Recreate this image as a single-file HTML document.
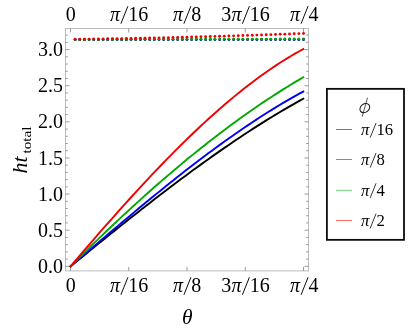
<!DOCTYPE html>
<html><head><meta charset="utf-8"><style>
html,body{margin:0;padding:0;background:#fff;}
svg{display:block;will-change:transform}
text{font-family:"Liberation Serif",serif;fill:#000}
</style></head><body>
<svg width="416" height="336" viewBox="0 0 416 336">
<rect width="416" height="336" fill="#fff"/>
<rect x="65.5" y="28.5" width="243.0" height="242.39999999999998" fill="none" stroke="#bcbcbc" stroke-width="1"/>
<path d="M65.5 266.30h4 M308.5 266.30h-4" stroke="#888" stroke-width="0.85"/><path d="M65.5 259.08h2.3 M308.5 259.08h-2.3" stroke="#888" stroke-width="0.85"/><path d="M65.5 251.85h2.3 M308.5 251.85h-2.3" stroke="#888" stroke-width="0.85"/><path d="M65.5 244.63h2.3 M308.5 244.63h-2.3" stroke="#888" stroke-width="0.85"/><path d="M65.5 237.41h2.3 M308.5 237.41h-2.3" stroke="#888" stroke-width="0.85"/><path d="M65.5 230.19h4 M308.5 230.19h-4" stroke="#888" stroke-width="0.85"/><path d="M65.5 222.96h2.3 M308.5 222.96h-2.3" stroke="#888" stroke-width="0.85"/><path d="M65.5 215.74h2.3 M308.5 215.74h-2.3" stroke="#888" stroke-width="0.85"/><path d="M65.5 208.52h2.3 M308.5 208.52h-2.3" stroke="#888" stroke-width="0.85"/><path d="M65.5 201.29h2.3 M308.5 201.29h-2.3" stroke="#888" stroke-width="0.85"/><path d="M65.5 194.07h4 M308.5 194.07h-4" stroke="#888" stroke-width="0.85"/><path d="M65.5 186.85h2.3 M308.5 186.85h-2.3" stroke="#888" stroke-width="0.85"/><path d="M65.5 179.62h2.3 M308.5 179.62h-2.3" stroke="#888" stroke-width="0.85"/><path d="M65.5 172.40h2.3 M308.5 172.40h-2.3" stroke="#888" stroke-width="0.85"/><path d="M65.5 165.18h2.3 M308.5 165.18h-2.3" stroke="#888" stroke-width="0.85"/><path d="M65.5 157.96h4 M308.5 157.96h-4" stroke="#888" stroke-width="0.85"/><path d="M65.5 150.73h2.3 M308.5 150.73h-2.3" stroke="#888" stroke-width="0.85"/><path d="M65.5 143.51h2.3 M308.5 143.51h-2.3" stroke="#888" stroke-width="0.85"/><path d="M65.5 136.29h2.3 M308.5 136.29h-2.3" stroke="#888" stroke-width="0.85"/><path d="M65.5 129.06h2.3 M308.5 129.06h-2.3" stroke="#888" stroke-width="0.85"/><path d="M65.5 121.84h4 M308.5 121.84h-4" stroke="#888" stroke-width="0.85"/><path d="M65.5 114.62h2.3 M308.5 114.62h-2.3" stroke="#888" stroke-width="0.85"/><path d="M65.5 107.39h2.3 M308.5 107.39h-2.3" stroke="#888" stroke-width="0.85"/><path d="M65.5 100.17h2.3 M308.5 100.17h-2.3" stroke="#888" stroke-width="0.85"/><path d="M65.5 92.95h2.3 M308.5 92.95h-2.3" stroke="#888" stroke-width="0.85"/><path d="M65.5 85.72h4 M308.5 85.72h-4" stroke="#888" stroke-width="0.85"/><path d="M65.5 78.50h2.3 M308.5 78.50h-2.3" stroke="#888" stroke-width="0.85"/><path d="M65.5 71.28h2.3 M308.5 71.28h-2.3" stroke="#888" stroke-width="0.85"/><path d="M65.5 64.06h2.3 M308.5 64.06h-2.3" stroke="#888" stroke-width="0.85"/><path d="M65.5 56.83h2.3 M308.5 56.83h-2.3" stroke="#888" stroke-width="0.85"/><path d="M65.5 49.61h4 M308.5 49.61h-4" stroke="#888" stroke-width="0.85"/><path d="M65.5 42.39h2.3 M308.5 42.39h-2.3" stroke="#888" stroke-width="0.85"/><path d="M65.5 35.16h2.3 M308.5 35.16h-2.3" stroke="#888" stroke-width="0.85"/><path d="M70.50 28.5v4 M70.50 270.9v-4" stroke="#888" stroke-width="0.85"/><path d="M128.75 28.5v4 M128.75 270.9v-4" stroke="#888" stroke-width="0.85"/><path d="M187.00 28.5v4 M187.00 270.9v-4" stroke="#888" stroke-width="0.85"/><path d="M245.25 28.5v4 M245.25 270.9v-4" stroke="#888" stroke-width="0.85"/><path d="M303.50 28.5v4 M303.50 270.9v-4" stroke="#888" stroke-width="0.85"/>
<path d="M70.60 266.30 L74.54 263.08 L78.49 259.87 L82.43 256.66 L86.38 253.45 L90.32 250.25 L94.26 247.05 L98.21 243.86 L102.15 240.68 L106.10 237.50 L110.04 234.33 L113.98 231.17 L117.93 228.01 L121.87 224.87 L125.82 221.73 L129.76 218.61 L133.71 215.49 L137.65 212.39 L141.59 209.29 L145.54 206.21 L149.48 203.14 L153.43 200.08 L157.37 197.04 L161.31 194.01 L165.26 191.00 L169.20 188.00 L173.15 185.02 L177.09 182.05 L181.03 179.10 L184.98 176.16 L188.92 173.25 L192.87 170.35 L196.81 167.47 L200.75 164.61 L204.70 161.77 L208.64 158.95 L212.59 156.15 L216.53 153.37 L220.47 150.61 L224.42 147.88 L228.36 145.17 L232.31 142.48 L236.25 139.81 L240.19 137.17 L244.14 134.56 L248.08 131.97 L252.03 129.41 L255.97 126.87 L259.92 124.36 L263.86 121.88 L267.80 119.42 L271.75 116.99 L275.69 114.60 L279.64 112.23 L283.58 109.89 L287.52 107.58 L291.47 105.31 L295.41 103.06 L299.36 100.85 L303.30 98.67" stroke="#000000" stroke-width="1.9" fill="none" stroke-linejoin="round" stroke-linecap="square"/>
<path d="M70.60 266.30 L74.54 262.91 L78.49 259.52 L82.43 256.14 L86.38 252.75 L90.32 249.37 L94.26 246.00 L98.21 242.63 L102.15 239.26 L106.10 235.90 L110.04 232.55 L113.98 229.20 L117.93 225.87 L121.87 222.54 L125.82 219.22 L129.76 215.92 L133.71 212.62 L137.65 209.34 L141.59 206.07 L145.54 202.81 L149.48 199.56 L153.43 196.33 L157.37 193.12 L161.31 189.92 L165.26 186.74 L169.20 183.58 L173.15 180.43 L177.09 177.31 L181.03 174.20 L184.98 171.12 L188.92 168.05 L192.87 165.01 L196.81 161.99 L200.75 158.99 L204.70 156.02 L208.64 153.07 L212.59 150.14 L216.53 147.25 L220.47 144.38 L224.42 141.53 L228.36 138.72 L232.31 135.93 L236.25 133.18 L240.19 130.45 L244.14 127.75 L248.08 125.09 L252.03 122.46 L255.97 119.86 L259.92 117.30 L263.86 114.77 L267.80 112.27 L271.75 109.82 L275.69 107.39 L279.64 105.01 L283.58 102.66 L287.52 100.36 L291.47 98.09 L295.41 95.86 L299.36 93.67 L303.30 91.53" stroke="#0000f0" stroke-width="1.9" fill="none" stroke-linejoin="round" stroke-linecap="square"/>
<path d="M70.60 266.30 L74.54 262.35 L78.49 258.43 L82.43 254.52 L86.38 250.64 L90.32 246.77 L94.26 242.93 L98.21 239.11 L102.15 235.31 L106.10 231.53 L110.04 227.78 L113.98 224.04 L117.93 220.34 L121.87 216.65 L125.82 212.99 L129.76 209.35 L133.71 205.74 L137.65 202.15 L141.59 198.58 L145.54 195.04 L149.48 191.53 L153.43 188.04 L157.37 184.58 L161.31 181.14 L165.26 177.73 L169.20 174.35 L173.15 170.99 L177.09 167.66 L181.03 164.36 L184.98 161.09 L188.92 157.85 L192.87 154.63 L196.81 151.44 L200.75 148.28 L204.70 145.15 L208.64 142.05 L212.59 138.98 L216.53 135.94 L220.47 132.93 L224.42 129.95 L228.36 127.00 L232.31 124.09 L236.25 121.20 L240.19 118.35 L244.14 115.53 L248.08 112.74 L252.03 109.98 L255.97 107.26 L259.92 104.57 L263.86 101.91 L267.80 99.29 L271.75 96.70 L275.69 94.14 L279.64 91.62 L283.58 89.14 L287.52 86.69 L291.47 84.28 L295.41 81.90 L299.36 79.56 L303.30 77.25" stroke="#00a800" stroke-width="1.9" fill="none" stroke-linejoin="round" stroke-linecap="square"/>
<path d="M70.60 266.30 L74.54 261.68 L78.49 257.07 L82.43 252.47 L86.38 247.89 L90.32 243.33 L94.26 238.78 L98.21 234.24 L102.15 229.73 L106.10 225.24 L110.04 220.76 L113.98 216.31 L117.93 211.88 L121.87 207.48 L125.82 203.10 L129.76 198.74 L133.71 194.41 L137.65 190.11 L141.59 185.84 L145.54 181.60 L149.48 177.40 L153.43 173.22 L157.37 169.08 L161.31 164.97 L165.26 160.90 L169.20 156.86 L173.15 152.86 L177.09 148.90 L181.03 144.98 L184.98 141.10 L188.92 137.27 L192.87 133.47 L196.81 129.72 L200.75 126.02 L204.70 122.36 L208.64 118.75 L212.59 115.19 L216.53 111.67 L220.47 108.21 L224.42 104.80 L228.36 101.44 L232.31 98.14 L236.25 94.89 L240.19 91.69 L244.14 88.55 L248.08 85.47 L252.03 82.45 L255.97 79.49 L259.92 76.60 L263.86 73.76 L267.80 70.99 L271.75 68.28 L275.69 65.63 L279.64 63.06 L283.58 60.55 L287.52 58.11 L291.47 55.74 L295.41 53.44 L299.36 51.21 L303.30 49.05" stroke="#f00000" stroke-width="1.9" fill="none" stroke-linejoin="round" stroke-linecap="square"/>

<circle cx="75.10" cy="39.69" r="1.25" fill="#000000"/><circle cx="79.76" cy="39.69" r="1.25" fill="#000000"/><circle cx="84.42" cy="39.68" r="1.25" fill="#000000"/><circle cx="89.08" cy="39.68" r="1.25" fill="#000000"/><circle cx="93.74" cy="39.67" r="1.25" fill="#000000"/><circle cx="98.41" cy="39.66" r="1.25" fill="#000000"/><circle cx="103.07" cy="39.66" r="1.25" fill="#000000"/><circle cx="107.73" cy="39.65" r="1.25" fill="#000000"/><circle cx="112.39" cy="39.65" r="1.25" fill="#000000"/><circle cx="117.05" cy="39.64" r="1.25" fill="#000000"/><circle cx="121.71" cy="39.63" r="1.25" fill="#000000"/><circle cx="126.37" cy="39.63" r="1.25" fill="#000000"/><circle cx="131.03" cy="39.62" r="1.25" fill="#000000"/><circle cx="135.70" cy="39.62" r="1.25" fill="#000000"/><circle cx="140.36" cy="39.61" r="1.25" fill="#000000"/><circle cx="145.02" cy="39.60" r="1.25" fill="#000000"/><circle cx="149.68" cy="39.60" r="1.25" fill="#000000"/><circle cx="154.34" cy="39.59" r="1.25" fill="#000000"/><circle cx="159.00" cy="39.59" r="1.25" fill="#000000"/><circle cx="163.66" cy="39.58" r="1.25" fill="#000000"/><circle cx="168.32" cy="39.57" r="1.25" fill="#000000"/><circle cx="172.99" cy="39.57" r="1.25" fill="#000000"/><circle cx="177.65" cy="39.56" r="1.25" fill="#000000"/><circle cx="182.31" cy="39.56" r="1.25" fill="#000000"/><circle cx="186.97" cy="39.55" r="1.25" fill="#000000"/><circle cx="191.63" cy="39.54" r="1.25" fill="#000000"/><circle cx="196.29" cy="39.54" r="1.25" fill="#000000"/><circle cx="200.95" cy="39.53" r="1.25" fill="#000000"/><circle cx="205.61" cy="39.53" r="1.25" fill="#000000"/><circle cx="210.28" cy="39.52" r="1.25" fill="#000000"/><circle cx="214.94" cy="39.51" r="1.25" fill="#000000"/><circle cx="219.60" cy="39.51" r="1.25" fill="#000000"/><circle cx="224.26" cy="39.50" r="1.25" fill="#000000"/><circle cx="228.92" cy="39.50" r="1.25" fill="#000000"/><circle cx="233.58" cy="39.49" r="1.25" fill="#000000"/><circle cx="238.24" cy="39.48" r="1.25" fill="#000000"/><circle cx="242.90" cy="39.48" r="1.25" fill="#000000"/><circle cx="247.57" cy="39.47" r="1.25" fill="#000000"/><circle cx="252.23" cy="39.47" r="1.25" fill="#000000"/><circle cx="256.89" cy="39.46" r="1.25" fill="#000000"/><circle cx="261.55" cy="39.45" r="1.25" fill="#000000"/><circle cx="266.21" cy="39.45" r="1.25" fill="#000000"/><circle cx="270.87" cy="39.44" r="1.25" fill="#000000"/><circle cx="275.53" cy="39.44" r="1.25" fill="#000000"/><circle cx="280.19" cy="39.43" r="1.25" fill="#000000"/><circle cx="284.86" cy="39.42" r="1.25" fill="#000000"/><circle cx="289.52" cy="39.42" r="1.25" fill="#000000"/><circle cx="294.18" cy="39.41" r="1.25" fill="#000000"/><circle cx="298.84" cy="39.41" r="1.25" fill="#000000"/><circle cx="303.50" cy="39.40" r="1.25" fill="#000000"/>
<circle cx="75.10" cy="39.69" r="1.35" fill="#0000f0"/><circle cx="79.76" cy="39.69" r="1.35" fill="#0000f0"/><circle cx="84.42" cy="39.68" r="1.35" fill="#0000f0"/><circle cx="89.08" cy="39.68" r="1.35" fill="#0000f0"/><circle cx="93.74" cy="39.67" r="1.35" fill="#0000f0"/><circle cx="98.41" cy="39.66" r="1.35" fill="#0000f0"/><circle cx="103.07" cy="39.66" r="1.35" fill="#0000f0"/><circle cx="107.73" cy="39.65" r="1.35" fill="#0000f0"/><circle cx="112.39" cy="39.65" r="1.35" fill="#0000f0"/><circle cx="117.05" cy="39.64" r="1.35" fill="#0000f0"/><circle cx="121.71" cy="39.63" r="1.35" fill="#0000f0"/><circle cx="126.37" cy="39.63" r="1.35" fill="#0000f0"/><circle cx="131.03" cy="39.62" r="1.35" fill="#0000f0"/><circle cx="135.70" cy="39.62" r="1.35" fill="#0000f0"/><circle cx="140.36" cy="39.61" r="1.35" fill="#0000f0"/><circle cx="145.02" cy="39.60" r="1.35" fill="#0000f0"/><circle cx="149.68" cy="39.60" r="1.35" fill="#0000f0"/><circle cx="154.34" cy="39.59" r="1.35" fill="#0000f0"/><circle cx="159.00" cy="39.59" r="1.35" fill="#0000f0"/><circle cx="163.66" cy="39.58" r="1.35" fill="#0000f0"/><circle cx="168.32" cy="39.57" r="1.35" fill="#0000f0"/><circle cx="172.99" cy="39.57" r="1.35" fill="#0000f0"/><circle cx="177.65" cy="39.56" r="1.35" fill="#0000f0"/><circle cx="182.31" cy="39.56" r="1.35" fill="#0000f0"/><circle cx="186.97" cy="39.55" r="1.35" fill="#0000f0"/><circle cx="191.63" cy="39.54" r="1.35" fill="#0000f0"/><circle cx="196.29" cy="39.54" r="1.35" fill="#0000f0"/><circle cx="200.95" cy="39.53" r="1.35" fill="#0000f0"/><circle cx="205.61" cy="39.53" r="1.35" fill="#0000f0"/><circle cx="210.28" cy="39.52" r="1.35" fill="#0000f0"/><circle cx="214.94" cy="39.51" r="1.35" fill="#0000f0"/><circle cx="219.60" cy="39.51" r="1.35" fill="#0000f0"/><circle cx="224.26" cy="39.50" r="1.35" fill="#0000f0"/><circle cx="228.92" cy="39.50" r="1.35" fill="#0000f0"/><circle cx="233.58" cy="39.49" r="1.35" fill="#0000f0"/><circle cx="238.24" cy="39.48" r="1.35" fill="#0000f0"/><circle cx="242.90" cy="39.48" r="1.35" fill="#0000f0"/><circle cx="247.57" cy="39.47" r="1.35" fill="#0000f0"/><circle cx="252.23" cy="39.47" r="1.35" fill="#0000f0"/><circle cx="256.89" cy="39.46" r="1.35" fill="#0000f0"/><circle cx="261.55" cy="39.45" r="1.35" fill="#0000f0"/><circle cx="266.21" cy="39.45" r="1.35" fill="#0000f0"/><circle cx="270.87" cy="39.44" r="1.35" fill="#0000f0"/><circle cx="275.53" cy="39.44" r="1.35" fill="#0000f0"/><circle cx="280.19" cy="39.43" r="1.35" fill="#0000f0"/><circle cx="284.86" cy="39.42" r="1.35" fill="#0000f0"/><circle cx="289.52" cy="39.42" r="1.35" fill="#0000f0"/><circle cx="294.18" cy="39.41" r="1.35" fill="#0000f0"/><circle cx="298.84" cy="39.41" r="1.35" fill="#0000f0"/><circle cx="303.50" cy="39.40" r="1.35" fill="#0000f0"/>
<circle cx="75.10" cy="39.64" r="1.4" fill="#00a800"/><circle cx="79.76" cy="39.62" r="1.4" fill="#00a800"/><circle cx="84.42" cy="39.61" r="1.4" fill="#00a800"/><circle cx="89.08" cy="39.59" r="1.4" fill="#00a800"/><circle cx="93.74" cy="39.58" r="1.4" fill="#00a800"/><circle cx="98.41" cy="39.57" r="1.4" fill="#00a800"/><circle cx="103.07" cy="39.55" r="1.4" fill="#00a800"/><circle cx="107.73" cy="39.54" r="1.4" fill="#00a800"/><circle cx="112.39" cy="39.52" r="1.4" fill="#00a800"/><circle cx="117.05" cy="39.51" r="1.4" fill="#00a800"/><circle cx="121.71" cy="39.50" r="1.4" fill="#00a800"/><circle cx="126.37" cy="39.48" r="1.4" fill="#00a800"/><circle cx="131.03" cy="39.47" r="1.4" fill="#00a800"/><circle cx="135.70" cy="39.45" r="1.4" fill="#00a800"/><circle cx="140.36" cy="39.44" r="1.4" fill="#00a800"/><circle cx="145.02" cy="39.43" r="1.4" fill="#00a800"/><circle cx="149.68" cy="39.41" r="1.4" fill="#00a800"/><circle cx="154.34" cy="39.40" r="1.4" fill="#00a800"/><circle cx="159.00" cy="39.38" r="1.4" fill="#00a800"/><circle cx="163.66" cy="39.37" r="1.4" fill="#00a800"/><circle cx="168.32" cy="39.36" r="1.4" fill="#00a800"/><circle cx="172.99" cy="39.34" r="1.4" fill="#00a800"/><circle cx="177.65" cy="39.33" r="1.4" fill="#00a800"/><circle cx="182.31" cy="39.31" r="1.4" fill="#00a800"/><circle cx="186.97" cy="39.30" r="1.4" fill="#00a800"/><circle cx="191.63" cy="39.29" r="1.4" fill="#00a800"/><circle cx="196.29" cy="39.27" r="1.4" fill="#00a800"/><circle cx="200.95" cy="39.26" r="1.4" fill="#00a800"/><circle cx="205.61" cy="39.24" r="1.4" fill="#00a800"/><circle cx="210.28" cy="39.23" r="1.4" fill="#00a800"/><circle cx="214.94" cy="39.22" r="1.4" fill="#00a800"/><circle cx="219.60" cy="39.20" r="1.4" fill="#00a800"/><circle cx="224.26" cy="39.19" r="1.4" fill="#00a800"/><circle cx="228.92" cy="39.17" r="1.4" fill="#00a800"/><circle cx="233.58" cy="39.16" r="1.4" fill="#00a800"/><circle cx="238.24" cy="39.15" r="1.4" fill="#00a800"/><circle cx="242.90" cy="39.13" r="1.4" fill="#00a800"/><circle cx="247.57" cy="39.12" r="1.4" fill="#00a800"/><circle cx="252.23" cy="39.10" r="1.4" fill="#00a800"/><circle cx="256.89" cy="39.09" r="1.4" fill="#00a800"/><circle cx="261.55" cy="39.08" r="1.4" fill="#00a800"/><circle cx="266.21" cy="39.06" r="1.4" fill="#00a800"/><circle cx="270.87" cy="39.05" r="1.4" fill="#00a800"/><circle cx="275.53" cy="39.03" r="1.4" fill="#00a800"/><circle cx="280.19" cy="39.02" r="1.4" fill="#00a800"/><circle cx="284.86" cy="39.01" r="1.4" fill="#00a800"/><circle cx="289.52" cy="38.99" r="1.4" fill="#00a800"/><circle cx="294.18" cy="38.98" r="1.4" fill="#00a800"/><circle cx="298.84" cy="38.96" r="1.4" fill="#00a800"/><circle cx="303.50" cy="38.95" r="1.4" fill="#00a800"/>
<circle cx="75.10" cy="39.29" r="1.45" fill="#f00000"/><circle cx="79.76" cy="39.23" r="1.45" fill="#f00000"/><circle cx="84.42" cy="39.17" r="1.45" fill="#f00000"/><circle cx="89.08" cy="39.11" r="1.45" fill="#f00000"/><circle cx="93.74" cy="39.04" r="1.45" fill="#f00000"/><circle cx="98.41" cy="38.97" r="1.45" fill="#f00000"/><circle cx="103.07" cy="38.90" r="1.45" fill="#f00000"/><circle cx="107.73" cy="38.82" r="1.45" fill="#f00000"/><circle cx="112.39" cy="38.74" r="1.45" fill="#f00000"/><circle cx="117.05" cy="38.66" r="1.45" fill="#f00000"/><circle cx="121.71" cy="38.58" r="1.45" fill="#f00000"/><circle cx="126.37" cy="38.50" r="1.45" fill="#f00000"/><circle cx="131.03" cy="38.41" r="1.45" fill="#f00000"/><circle cx="135.70" cy="38.32" r="1.45" fill="#f00000"/><circle cx="140.36" cy="38.23" r="1.45" fill="#f00000"/><circle cx="145.02" cy="38.13" r="1.45" fill="#f00000"/><circle cx="149.68" cy="38.03" r="1.45" fill="#f00000"/><circle cx="154.34" cy="37.94" r="1.45" fill="#f00000"/><circle cx="159.00" cy="37.83" r="1.45" fill="#f00000"/><circle cx="163.66" cy="37.73" r="1.45" fill="#f00000"/><circle cx="168.32" cy="37.62" r="1.45" fill="#f00000"/><circle cx="172.99" cy="37.51" r="1.45" fill="#f00000"/><circle cx="177.65" cy="37.40" r="1.45" fill="#f00000"/><circle cx="182.31" cy="37.29" r="1.45" fill="#f00000"/><circle cx="186.97" cy="37.17" r="1.45" fill="#f00000"/><circle cx="191.63" cy="37.05" r="1.45" fill="#f00000"/><circle cx="196.29" cy="36.93" r="1.45" fill="#f00000"/><circle cx="200.95" cy="36.80" r="1.45" fill="#f00000"/><circle cx="205.61" cy="36.68" r="1.45" fill="#f00000"/><circle cx="210.28" cy="36.55" r="1.45" fill="#f00000"/><circle cx="214.94" cy="36.41" r="1.45" fill="#f00000"/><circle cx="219.60" cy="36.28" r="1.45" fill="#f00000"/><circle cx="224.26" cy="36.14" r="1.45" fill="#f00000"/><circle cx="228.92" cy="36.01" r="1.45" fill="#f00000"/><circle cx="233.58" cy="35.86" r="1.45" fill="#f00000"/><circle cx="238.24" cy="35.72" r="1.45" fill="#f00000"/><circle cx="242.90" cy="35.57" r="1.45" fill="#f00000"/><circle cx="247.57" cy="35.42" r="1.45" fill="#f00000"/><circle cx="252.23" cy="35.27" r="1.45" fill="#f00000"/><circle cx="256.89" cy="35.12" r="1.45" fill="#f00000"/><circle cx="261.55" cy="34.96" r="1.45" fill="#f00000"/><circle cx="266.21" cy="34.80" r="1.45" fill="#f00000"/><circle cx="270.87" cy="34.64" r="1.45" fill="#f00000"/><circle cx="275.53" cy="34.48" r="1.45" fill="#f00000"/><circle cx="280.19" cy="34.31" r="1.45" fill="#f00000"/><circle cx="284.86" cy="34.14" r="1.45" fill="#f00000"/><circle cx="289.52" cy="33.97" r="1.45" fill="#f00000"/><circle cx="294.18" cy="33.80" r="1.45" fill="#f00000"/><circle cx="298.84" cy="33.62" r="1.45" fill="#f00000"/><circle cx="303.50" cy="33.44" r="1.45" fill="#f00000"/>

<text x="65.65" y="20.8" font-size="20">0</text>
<text x="109.90" y="20.8" font-size="20.0" font-style="italic">π</text><path d="M120.90 23.70L127.90 6.20" stroke="#000" stroke-width="0.95"/><text x="128.30" y="20.8" font-size="20.0">16</text>
<text x="172.90" y="20.8" font-size="20.0" font-style="italic">π</text><path d="M183.90 23.70L190.90 6.20" stroke="#000" stroke-width="0.95"/><text x="191.30" y="20.8" font-size="20.0">8</text>
<text x="221.30" y="20.8" font-size="20.0">3</text><text x="231.40" y="20.8" font-size="20.0" font-style="italic">π</text><path d="M242.40 23.70L249.40 6.20" stroke="#000" stroke-width="0.95"/><text x="249.80" y="20.8" font-size="20.0">16</text>
<text x="290.05" y="20.8" font-size="20.0" font-style="italic">π</text><path d="M301.05 23.70L308.05 6.20" stroke="#000" stroke-width="0.95"/><text x="308.45" y="20.8" font-size="20.0">4</text>
<text x="65.65" y="291.9" font-size="20">0</text>
<text x="109.90" y="291.9" font-size="20.0" font-style="italic">π</text><path d="M120.90 294.80L127.90 277.30" stroke="#000" stroke-width="0.95"/><text x="128.30" y="291.9" font-size="20.0">16</text>
<text x="172.90" y="291.9" font-size="20.0" font-style="italic">π</text><path d="M183.90 294.80L190.90 277.30" stroke="#000" stroke-width="0.95"/><text x="191.30" y="291.9" font-size="20.0">8</text>
<text x="221.30" y="291.9" font-size="20.0">3</text><text x="231.40" y="291.9" font-size="20.0" font-style="italic">π</text><path d="M242.40 294.80L249.40 277.30" stroke="#000" stroke-width="0.95"/><text x="249.80" y="291.9" font-size="20.0">16</text>
<text x="290.05" y="291.9" font-size="20.0" font-style="italic">π</text><path d="M301.05 294.80L308.05 277.30" stroke="#000" stroke-width="0.95"/><text x="308.45" y="291.9" font-size="20.0">4</text>

<text x="63.1" y="272.90" font-size="20" text-anchor="end">0.0</text>
<text x="63.1" y="236.78" font-size="20" text-anchor="end">0.5</text>
<text x="63.1" y="200.67" font-size="20" text-anchor="end">1.0</text>
<text x="63.1" y="164.56" font-size="20" text-anchor="end">1.5</text>
<text x="63.1" y="128.44" font-size="20" text-anchor="end">2.0</text>
<text x="63.1" y="92.32" font-size="20" text-anchor="end">2.5</text>
<text x="63.1" y="56.21" font-size="20" text-anchor="end">3.0</text>

<text x="187.3" y="324.4" text-anchor="middle" font-style="italic" font-size="21.5">θ</text>
<g transform="translate(27.1,173.6) rotate(-90)"><text x="0" y="0" font-style="italic" font-size="22">ht</text><text transform="translate(20.2,3.6) scale(1.26,1)" font-size="12">total</text></g>
<rect x="326.9" y="88.85" width="77.1" height="151" fill="#fff" stroke="#0c0c0c" stroke-width="1.8"/>
<ellipse cx="364.8" cy="108.1" rx="5.3" ry="4.1" transform="rotate(-38 364.8 108.1)" fill="none" stroke="#111" stroke-width="0.95"/><path d="M367.5 97.7L362.2 116.7" stroke="#111" stroke-width="0.7"/>
<path d="M336 129.5h16.1" stroke="#000" stroke-width="0.52"/>
<path d="M336 159.5h16.1" stroke="#0000ff" stroke-width="0.52"/>
<path d="M336 190.3h16.1" stroke="#00b000" stroke-width="0.55"/>
<path d="M336 220.5h16.1" stroke="#ff0000" stroke-width="0.6"/>
<text x="361.02" y="135.2" font-size="16.7" font-style="italic">π</text><path d="M370.20 137.62L376.05 123.01" stroke="#000" stroke-width="0.79"/><text x="376.38" y="135.2" font-size="16.7">16</text>
<text x="361.02" y="165.2" font-size="16.7" font-style="italic">π</text><path d="M370.20 167.62L376.05 153.01" stroke="#000" stroke-width="0.79"/><text x="376.38" y="165.2" font-size="16.7">8</text>
<text x="361.02" y="195.5" font-size="16.7" font-style="italic">π</text><path d="M370.20 197.92L376.05 183.31" stroke="#000" stroke-width="0.79"/><text x="376.38" y="195.5" font-size="16.7">4</text>
<text x="361.02" y="225.9" font-size="16.7" font-style="italic">π</text><path d="M370.20 228.32L376.05 213.71" stroke="#000" stroke-width="0.79"/><text x="376.38" y="225.9" font-size="16.7">2</text>

</svg>
</body></html>
